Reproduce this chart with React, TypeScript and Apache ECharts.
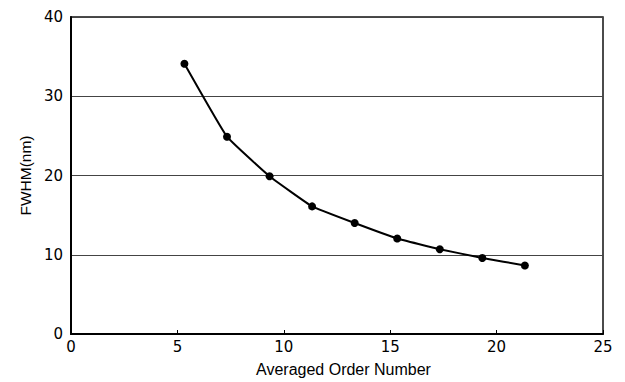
import React, { useEffect, useRef } from "react";
import * as echarts from "echarts";

const orderNumbers = [5.33, 7.33, 9.33, 11.33, 13.33, 15.33, 17.33, 19.33, 21.33];
const fwhmValues = [34.1, 24.9, 19.9, 16.1, 14.0, 12.05, 10.7, 9.6, 8.65];
const xTicks = { min: 0, max: 25, interval: 5 };
const yTicks = { min: 0, max: 40, interval: 10 };

export default function App() {
  const ref = useRef<HTMLDivElement>(null);
  useEffect(() => {
    if (!ref.current) return;
    const chart = echarts.init(ref.current, undefined, { renderer: "svg" });
    const data = orderNumbers.map((x, i) => [x, fwhmValues[i]]);
    chart.setOption({
      animation: false,
      backgroundColor: "#fff",
      grid: {
        left: 71,
        right: 22,
        top: 17,
        bottom: 46,
        show: true,
        borderColor: "#111",
        borderWidth: 1.5,
        backgroundColor: "transparent",
      },
      xAxis: {
        type: "value",
        min: xTicks.min,
        max: xTicks.max,
        interval: xTicks.interval,
        name: "Averaged Order Number",
        nameLocation: "middle",
        nameGap: 27,
        nameTextStyle: { fontFamily: "Liberation Sans", fontSize: 16, color: "#000", padding: [0, 0, 0, 13] },
        axisLine: { show: true, onZero: false, lineStyle: { color: "#000", width: 2 } },
        axisTick: { show: true, inside: true, length: 4, lineStyle: { color: "#000", width: 1 } },
        axisLabel: { fontFamily: "DejaVu Sans", fontSize: 15, color: "#000", margin: 5 },
        splitLine: { show: false },
      },
      yAxis: {
        type: "value",
        min: yTicks.min,
        max: yTicks.max,
        interval: yTicks.interval,
        name: "FWHM(nm)",
        nameLocation: "middle",
        nameGap: 37,
        nameTextStyle: { fontFamily: "Liberation Sans", fontSize: 15.5, color: "#000" },
        axisLine: { show: true, onZero: false, lineStyle: { color: "#000", width: 2 } },
        axisTick: { show: false },
        axisLabel: { fontFamily: "DejaVu Sans", fontSize: 15, color: "#000", margin: 8 },
        splitLine: { show: true, lineStyle: { color: "#444", width: 1 } },
      },
      series: [
        {
          type: "line",
          data,
          smooth: 0.1,
          symbol: "circle",
          symbolSize: 8,
          itemStyle: { color: "#000" },
          lineStyle: { color: "#000", width: 2 },
        },
      ],
    });
    return () => chart.dispose();
  }, []);
  return <div ref={ref} style={{ width: 625, height: 382, position: "absolute", left: 0, top: 0 }} />;
}
